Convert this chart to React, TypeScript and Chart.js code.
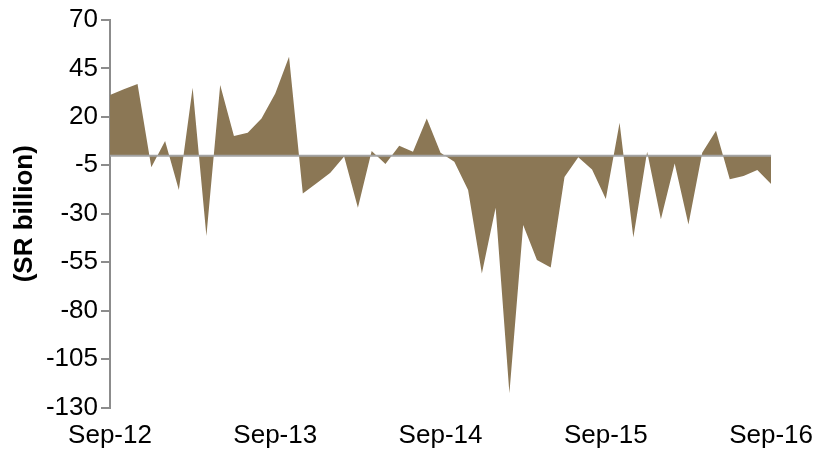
import React, { useEffect, useRef } from "react";
import { Chart, registerables } from "chart.js";

Chart.register(...registerables);

const MONTHS: string[] = [
  "Sep-12", "Oct-12", "Nov-12", "Dec-12", "Jan-13", "Feb-13", "Mar-13", "Apr-13", "May-13", "Jun-13", "Jul-13", "Aug-13",
  "Sep-13", "Oct-13", "Nov-13", "Dec-13", "Jan-14", "Feb-14", "Mar-14", "Apr-14", "May-14", "Jun-14", "Jul-14", "Aug-14",
  "Sep-14", "Oct-14", "Nov-14", "Dec-14", "Jan-15", "Feb-15", "Mar-15", "Apr-15", "May-15", "Jun-15", "Jul-15", "Aug-15",
  "Sep-15", "Oct-15", "Nov-15", "Dec-15", "Jan-16", "Feb-16", "Mar-16", "Apr-16", "May-16", "Jun-16", "Jul-16", "Aug-16",
  "Sep-16",
];

const SHOWN_LABELS: string[] = ["Sep-12", "Sep-13", "Sep-14", "Sep-15", "Sep-16"];

const VALUES: number[] = [
  31.3, 34.2, 37.0, -6.0, 7.5, -17.8, 35.0, -41.5, 36.4, 10.1, 11.8, 19.2,
  32.1, 51.0, -19.5, -14.3, -8.8, -0.5, -26.9, 2.4, -4.3, 5.1, 2.0, 19.2,
  1.5, -3.1, -17.8, -60.8, -26.9, -122.7, -35.8, -53.9, -57.7, -11.0, -0.9, -7.1,
  -22.4, 17.0, -42.2, 2.0, -32.9, -4.0, -35.5, 1.5, 12.9, -12.2, -10.5, -7.4,
  -14.7,
];

const Y_MIN = -130;
const Y_MAX = 70;
const Y_STEP = 25;

const FONT = "'Liberation Sans', Arial, sans-serif";

const zeroLine = {
  id: "zeroLine",
  afterDatasetsDraw(chart: any) {
    const { ctx, chartArea, scales } = chart;
    const y = scales.y.getPixelForValue(0);
    ctx.save();
    ctx.strokeStyle = "#a3a3a3";
    ctx.lineWidth = 2;
    ctx.beginPath();
    ctx.moveTo(chartArea.left, y);
    ctx.lineTo(chartArea.right, y);
    ctx.stroke();
    ctx.restore();
  },
};

export default function App() {
  const ref = useRef<HTMLCanvasElement | null>(null);

  useEffect(() => {
    if (!ref.current) return;
    const chart = new Chart(ref.current, {
      type: "line",
      data: {
        labels: MONTHS,
        datasets: [
          {
            data: VALUES,
            fill: "origin",
            backgroundColor: "#8b7755",
            borderWidth: 0,
            borderColor: "rgba(0,0,0,0)",
            pointRadius: 0,
            tension: 0,
          },
        ],
      },
      options: {
        responsive: false,
        animation: false,
        layout: { padding: { left: 0, right: 50, top: 20, bottom: 0 } },
        plugins: {
          legend: { display: false },
          tooltip: { enabled: false },
        },
        scales: {
          x: {
            type: "category",
            offset: false,
            grid: { display: false, drawTicks: false },
            border: { display: false },
            ticks: {
              autoSkip: false,
              maxRotation: 0,
              minRotation: 0,
              padding: 13,
              color: "#000",
              font: { family: FONT, size: 26 },
              callback: (_v: any, i: number) =>
                SHOWN_LABELS.includes(MONTHS[i]) ? MONTHS[i] : null,
            },
            afterFit: (s: any) => {
              s.height = 46.5;
            },
          },
          y: {
            min: Y_MIN,
            max: Y_MAX,
            grid: {
              drawOnChartArea: false,
              drawTicks: true,
              tickLength: 9,
              color: "#8c8c8c",
              lineWidth: 2,
            },
            border: { display: true, color: "#8c8c8c", width: 2 },
            ticks: {
              stepSize: Y_STEP,
              padding: 3,
              color: "#000",
              font: { family: FONT, size: 26 },
            },
            title: {
              display: true,
              text: "(SR billion)",
              color: "#000",
              font: { family: FONT, size: 26, weight: "bold" },
              padding: { top: 9, bottom: 0 },
            },
            afterFit: (s: any) => {
              s.width = 110;
            },
          },
        },
      },
      plugins: [zeroLine],
    });
    return () => chart.destroy();
  }, []);

  return (
    <div style={{ position: "fixed", left: 0, top: 0, width: 826, height: 454, background: "#fff" }}>
      <canvas ref={ref} width={826} height={454} style={{ display: "block" }} />
    </div>
  );
}
